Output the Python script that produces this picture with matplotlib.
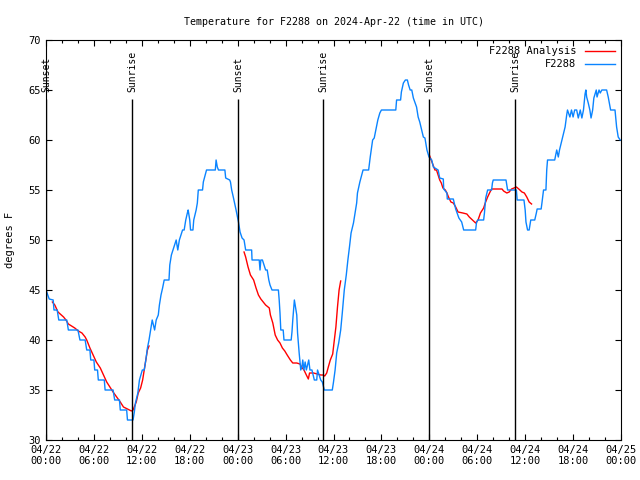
import matplotlib
matplotlib.use('Agg')
import matplotlib.pyplot as plt
from matplotlib.ticker import MultipleLocator

# hours since 2024-04-22 00:00 UTC
obs_hours = [0.0, 0.4, 0.9, 1.0, 1.4, 1.6, 2.6, 2.8, 4.0, 4.25, 4.9, 5.1, 5.5, 5.6, 6.0, 6.1,
             6.45, 6.55, 7.3, 7.4, 8.4, 8.6, 9.2, 9.3, 10.1, 10.2, 10.9, 11.06, 11.2, 11.5, 11.7,
             12.06, 12.3, 12.5, 12.7, 12.9, 13.2, 13.3, 13.6, 13.8, 14.06, 14.2, 14.4, 14.6, 14.8,
             15.4, 15.5, 15.7, 15.9, 16.3, 16.5, 16.7, 16.9, 17.1, 17.3, 17.4, 17.5, 17.7, 17.8,
             18.0, 18.1, 18.4, 18.5, 18.8, 18.95, 19.07, 19.6, 19.7, 20.1, 21.2, 21.3, 21.45,
             21.6, 22.4, 22.5, 23.0, 23.1, 23.25, 23.45, 23.8, 24.1, 24.3, 24.55, 24.8, 25.0,
             25.75, 25.8, 26.7, 26.8, 26.9, 27.1, 27.3, 27.5, 27.7, 27.9, 28.05, 28.3, 29.1, 29.2,
             29.3, 29.4, 29.7, 29.8, 30.7, 30.8, 30.9, 31.1, 31.2, 31.4, 31.5, 31.7, 31.9, 32.05,
             32.15, 32.3, 32.45, 32.6, 32.9, 33.05, 33.3, 33.45, 33.6, 33.9, 34.0, 34.2, 34.4,
             34.6, 34.85, 35.85, 36.0, 36.2, 36.4, 36.65, 36.9, 37.1, 37.35, 37.6, 37.8, 38.0,
             38.2, 38.5, 38.7, 38.9, 39.0, 39.3, 39.7, 40.4, 40.6, 40.9, 41.1, 41.3, 41.55, 41.8,
             42.0, 43.8, 43.9, 44.4, 44.5, 44.75, 45.0, 45.25, 45.4, 45.6, 45.8, 46.0, 46.4, 46.6,
             46.8, 47.25, 47.45, 47.7, 47.96, 48.3, 48.5, 48.7, 49.1, 49.3, 49.75, 49.8, 50.2,
             50.25, 51.0, 51.3, 51.7, 52.05, 52.3, 53.8, 53.9, 54.06, 54.8, 54.9, 55.06, 55.3,
             55.8, 55.9, 56.0, 57.6, 57.8, 58.9, 59.0, 59.85, 60.0, 60.1, 60.3, 60.5, 60.7, 61.2,
             61.4, 61.5, 62.0, 62.1, 62.3, 62.6, 62.7, 62.8, 63.7, 63.95, 64.15, 64.3, 64.45,
             64.6, 64.8, 65.0, 65.2, 65.3, 65.6, 65.8, 66.0, 66.2, 66.45, 66.65, 66.9, 67.1, 67.3,
             67.5, 67.6, 67.7, 67.9, 68.1, 68.25, 68.45, 68.6, 68.9, 69.0, 69.25, 69.4, 69.6,
             70.2, 70.4, 70.7, 71.25, 71.45, 71.65, 71.9]
obs_temps = [45.0, 44.1, 44.0, 43.0, 43.0, 42.0, 42.0, 41.0, 41.0, 40.0, 40.0, 39.0, 39.0, 38.0,
             38.0, 37.0, 37.0, 36.0, 36.0, 35.0, 35.0, 34.0, 34.0, 33.0, 33.0, 32.0, 32.0, 32.8,
             33.7, 34.7, 36.0, 37.0, 37.0, 38.0, 39.2, 40.0, 41.5, 42.0, 41.0, 42.0, 42.5, 43.5,
             44.5, 45.2, 46.0, 46.0, 47.5, 48.5, 49.0, 50.0, 49.0, 50.0, 50.5, 51.0, 51.0, 51.5,
             52.0, 52.7, 53.0, 52.0, 51.0, 51.0, 52.0, 53.0, 53.7, 55.0, 55.0, 55.8, 57.0, 57.0,
             58.0, 57.3, 57.0, 57.0, 56.2, 56.0, 55.8, 55.0, 54.3, 53.0, 51.8, 50.8, 50.2, 50.0,
             49.0, 49.0, 48.0, 48.0, 47.0, 48.0, 48.0, 47.5, 47.0, 47.0, 46.0, 45.5, 45.0, 45.0,
             44.0, 42.7, 41.0, 41.0, 40.0, 40.0, 40.8, 42.0, 44.0, 43.5, 42.5, 40.7, 38.7, 37.0,
             37.3, 38.0, 37.0, 37.8, 37.0, 38.0, 37.0, 37.0, 36.5, 36.0, 36.0, 37.0, 36.5, 36.0,
             35.8, 35.0, 35.0, 35.8, 37.0, 38.7, 39.7, 41.0, 42.7, 45.0, 46.5, 48.0, 49.3, 50.7,
             51.7, 52.7, 53.7, 54.7, 55.8, 57.0, 57.0, 58.3, 60.0, 60.2, 61.0, 62.0, 62.7, 63.0,
             63.0, 64.0, 64.0, 64.8, 65.7, 66.0, 66.0, 65.5, 65.0, 65.0, 64.2, 63.3, 62.3, 61.8,
             60.3, 60.2, 59.0, 58.3, 58.0, 57.3, 57.2, 57.0, 56.2, 56.1, 55.1, 54.7, 54.1, 54.1,
             53.1, 52.2, 51.8, 51.0, 51.0, 51.7, 52.0, 52.0, 52.7, 54.2, 55.0, 55.0, 55.7, 56.0,
             56.0, 55.0, 55.0, 54.0, 54.0, 53.0, 51.8, 51.0, 51.0, 52.0, 52.0, 52.7, 53.1, 53.1,
             53.7, 55.0, 55.0, 57.0, 58.0, 58.0, 59.0, 58.3, 59.0, 59.5, 60.0, 60.7, 61.3, 62.5,
             63.0, 62.3, 63.0, 62.3, 63.0, 63.0, 62.2, 63.0, 62.2, 63.0, 64.6, 65.0, 64.3, 63.7,
             63.0, 62.2, 63.0, 64.2, 65.0, 64.3, 65.0, 64.7, 65.0, 65.0, 64.3, 63.0, 63.0, 61.3,
             60.3, 60.0]

# analysis runs (three separate pieces)
ana1_hours = [0.8, 1.1, 1.5, 2.2, 2.5, 2.8, 3.2, 3.6, 4.05, 4.5, 4.9, 5.1, 5.5, 5.9, 6.3, 6.8,
              7.2, 7.6, 8.0, 8.4, 8.85, 9.3, 9.7, 10.2, 10.7, 10.9, 11.3, 11.55, 11.85, 12.1,
              12.3, 12.5, 12.7, 12.9]
ana1_temps = [43.8, 43.5, 42.8, 42.3, 42.0, 41.6, 41.4, 41.2, 40.9, 40.7, 40.3, 40.0, 39.2, 38.5,
              37.8, 37.2, 36.5, 35.8, 35.3, 34.8, 34.3, 33.8, 33.3, 33.1, 32.9, 33.0, 33.8, 34.7,
              35.2, 36.0, 37.0, 38.0, 39.0, 39.4]
ana2_hours = [24.8, 25.0, 25.3, 25.6, 26.0, 26.3, 26.6, 26.9, 27.2, 27.5, 27.96, 28.1, 28.4, 28.7,
              29.0, 29.3, 29.6, 29.9, 30.2, 30.6, 30.9, 31.4, 31.8, 32.0, 32.3, 32.6, 32.85, 33.0,
              33.5, 33.97, 34.4, 34.7, 34.9, 35.15, 35.35, 35.6, 35.9, 36.06, 36.3, 36.5, 36.7,
              36.9]
ana2_temps = [48.8, 48.3, 47.3, 46.5, 46.0, 45.2, 44.5, 44.1, 43.8, 43.5, 43.2, 42.5, 41.7, 40.5,
              40.0, 39.7, 39.2, 38.9, 38.5, 38.0, 37.7, 37.7, 37.6, 37.3, 37.0, 36.5, 36.1, 36.7,
              36.7, 36.6, 36.5, 36.5, 36.4, 36.7, 37.3, 38.0, 38.6, 39.7, 41.3, 43.3, 45.0, 45.9]
ana3_hours = [48.0, 48.7, 48.9, 49.1, 49.3, 49.5, 49.7, 50.0, 50.2, 50.4, 50.7, 51.0, 51.3, 51.6,
              52.2, 52.7, 53.0, 53.4, 53.8, 54.1, 54.4, 54.8, 55.0, 55.3, 55.6, 55.8, 56.4, 57.1,
              57.3, 57.7, 58.0, 58.3, 58.6, 58.9, 59.2, 59.6, 59.9, 60.2, 60.5, 60.8]
ana3_temps = [58.5, 57.0, 57.0, 56.5, 56.0, 55.7, 55.2, 55.0, 54.7, 54.3, 53.8, 53.7, 53.3, 52.8,
              52.7, 52.6, 52.3, 52.0, 51.7, 52.0, 52.7, 53.2, 53.7, 54.3, 54.8, 55.1, 55.1, 55.1,
              54.9, 54.7, 54.8, 55.1, 55.2, 55.3, 55.1, 54.8, 54.7, 54.3, 53.8, 53.6]

sun_hours = [0.0, 10.8, 24.05, 34.7, 48.0, 58.75]
sun_labels = ['Sunset', 'Sunrise', 'Sunset', 'Sunrise', 'Sunset', 'Sunrise']

tick_hours = list(range(0, 73, 6))
tick_labels = ['04/22\n00:00', '04/22\n06:00', '04/22\n12:00', '04/22\n18:00',
               '04/23\n00:00', '04/23\n06:00', '04/23\n12:00', '04/23\n18:00',
               '04/24\n00:00', '04/24\n06:00', '04/24\n12:00', '04/24\n18:00',
               '04/25\n00:00']

plt.rcParams['font.family'] = 'DejaVu Sans Mono'
fig = plt.figure(figsize=(6.4, 4.8), dpi=100)
ax = fig.add_axes([46 / 640, 40 / 480, 575 / 640, 400 / 480])

red = '#ff0000'
blue = '#0a84ff'
ax.plot(ana1_hours, ana1_temps, color=red, lw=1, label='F2288 Analysis')
ax.plot(ana2_hours, ana2_temps, color=red, lw=1)
ax.plot(ana3_hours, ana3_temps, color=red, lw=1)
ax.plot(obs_hours, obs_temps, color=blue, lw=1, label='F2288')

for h, lab in zip(sun_hours, sun_labels):
    ax.vlines(h, 30, 64.1, color='black', lw=1)
    ax.text(h, 64.8, lab, rotation=90, ha='center', va='bottom', fontsize=7)

ax.set_xlim(0, 72)
ax.set_ylim(30, 70)
ax.set_xticks(tick_hours)
ax.set_xticklabels(tick_labels)
ax.xaxis.set_minor_locator(MultipleLocator(2))
ax.yaxis.set_major_locator(MultipleLocator(5))
ax.tick_params(which='both', direction='in', top=True, right=True, labelsize=7.5, width=0.8)
ax.tick_params(which='major', length=4)
ax.tick_params(which='minor', length=2.5)
for s in ax.spines.values():
    s.set_linewidth(0.8)

ax.set_title('Temperature for F2288 on 2024-Apr-22 (time in UTC)', fontsize=7.2, pad=11)
ax.set_ylabel('degrees F', fontsize=7.5, labelpad=10)

ax.legend(loc='upper right', frameon=False, markerfirst=False, fontsize=7.5,
          handlelength=2.9, borderaxespad=0.2, labelspacing=0.3)

fig.savefig('out.png', dpi=100)
